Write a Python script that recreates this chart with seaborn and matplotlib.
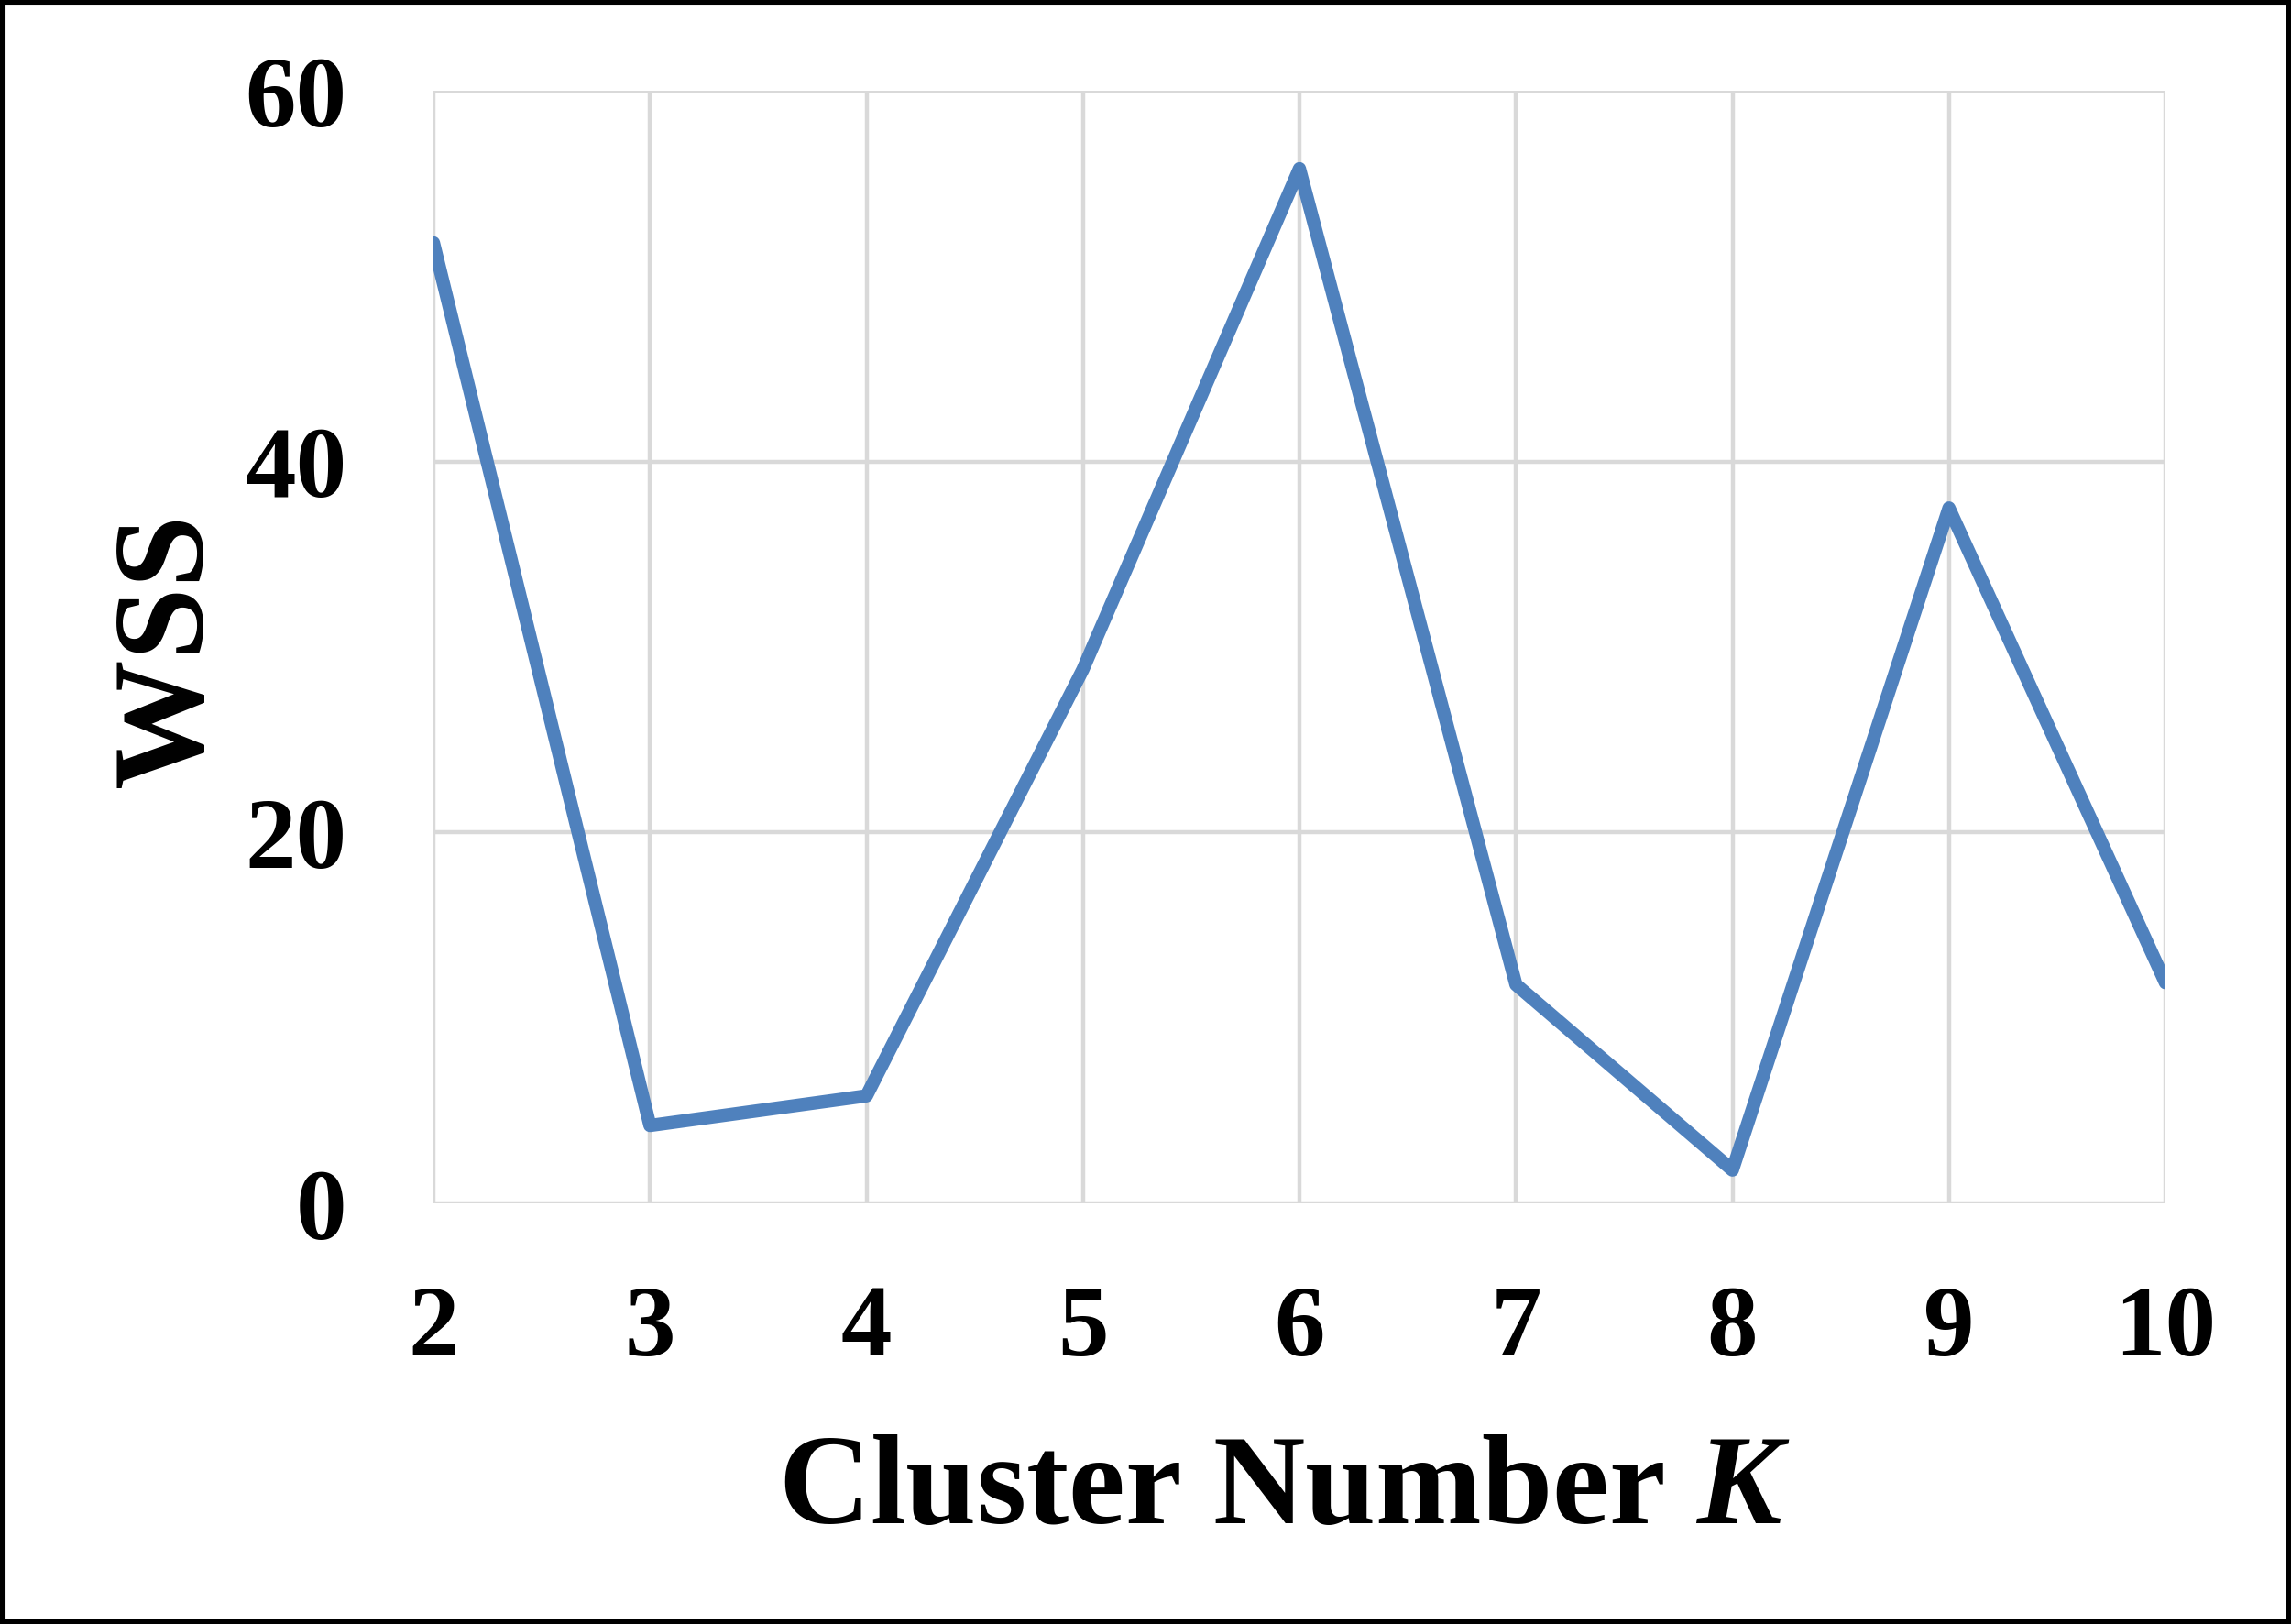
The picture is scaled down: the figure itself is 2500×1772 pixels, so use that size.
import matplotlib
matplotlib.use("Agg")
import matplotlib.pyplot as plt
import matplotlib.patches as patches
from matplotlib import font_manager as fm
import seaborn as sns
import pandas as pd

# Data
cluster_k = [2, 3, 4, 5, 6, 7, 8, 9, 10]
wss = [51.8, 4.2, 5.8, 28.8, 55.8, 11.8, 1.8, 37.5, 11.9]
y_ticks = [0, 20, 40, 60]

df = pd.DataFrame({"K": cluster_k, "WSS": wss})

# make sure Liberation Serif is registered
for path in fm.findSystemFonts():
    if "LiberationSerif" in path.replace(" ", ""):
        try:
            fm.fontManager.addfont(path)
        except Exception:
            pass

sns.set_theme(style="whitegrid")
plt.rcParams["font.family"] = ["Liberation Serif", "DejaVu Serif"]
plt.rcParams["font.weight"] = "bold"
plt.rcParams["mathtext.fontset"] = "custom"
plt.rcParams["mathtext.rm"] = "Liberation Serif:bold"
plt.rcParams["mathtext.it"] = "Liberation Serif:italic:bold"
plt.rcParams["mathtext.bf"] = "Liberation Serif:bold"

fig = plt.figure(figsize=(12.5, 8.86), dpi=200)
ax = fig.add_axes([0.1892, 0.259, 0.9452 - 0.1892, 0.9441 - 0.259])

sns.lineplot(data=df, x="K", y="WSS", ax=ax, color="#4F81BD", linewidth=5.2,
             solid_capstyle="round", solid_joinstyle="round")

ax.set_xlim(2, 10)
ax.set_ylim(0, 60)
ax.set_xticks(cluster_k)
ax.set_yticks(y_ticks)
ax.grid(True, color="#D9D9D9", linewidth=1.6)
ax.set_axisbelow(True)
for s in ax.spines.values():
    s.set_visible(False)
ax.tick_params(axis="x", length=0, pad=32, labelsize=40, labelcolor="black")
ax.tick_params(axis="y", length=0, pad=34, labelsize=40, labelcolor="black")
for lab in ax.get_xticklabels() + ax.get_yticklabels():
    lab.set_fontweight("bold")
    lab.set_fontfamily(["Liberation Serif", "DejaVu Serif"])

ax.set_xlabel("")
ax.set_ylabel("")
fig.text(185 / 2500, 1 - 709 / 1772, "WSS", rotation=90, ha="center", va="center",
         fontsize=51, fontweight="bold", color="black",
         family=["Liberation Serif", "DejaVu Serif"])
fig.text(1402 / 2500, 1 - 1628 / 1772, "Cluster Number $K$", ha="center", va="center",
         fontsize=50, fontweight="bold", color="black",
         family=["Liberation Serif", "DejaVu Serif"])

fig.patches.append(patches.Rectangle((0, 0), 1, 1, transform=fig.transFigure,
                                     fill=False, edgecolor="black", linewidth=4))

fig.savefig("out.png", dpi=200, facecolor="white")
